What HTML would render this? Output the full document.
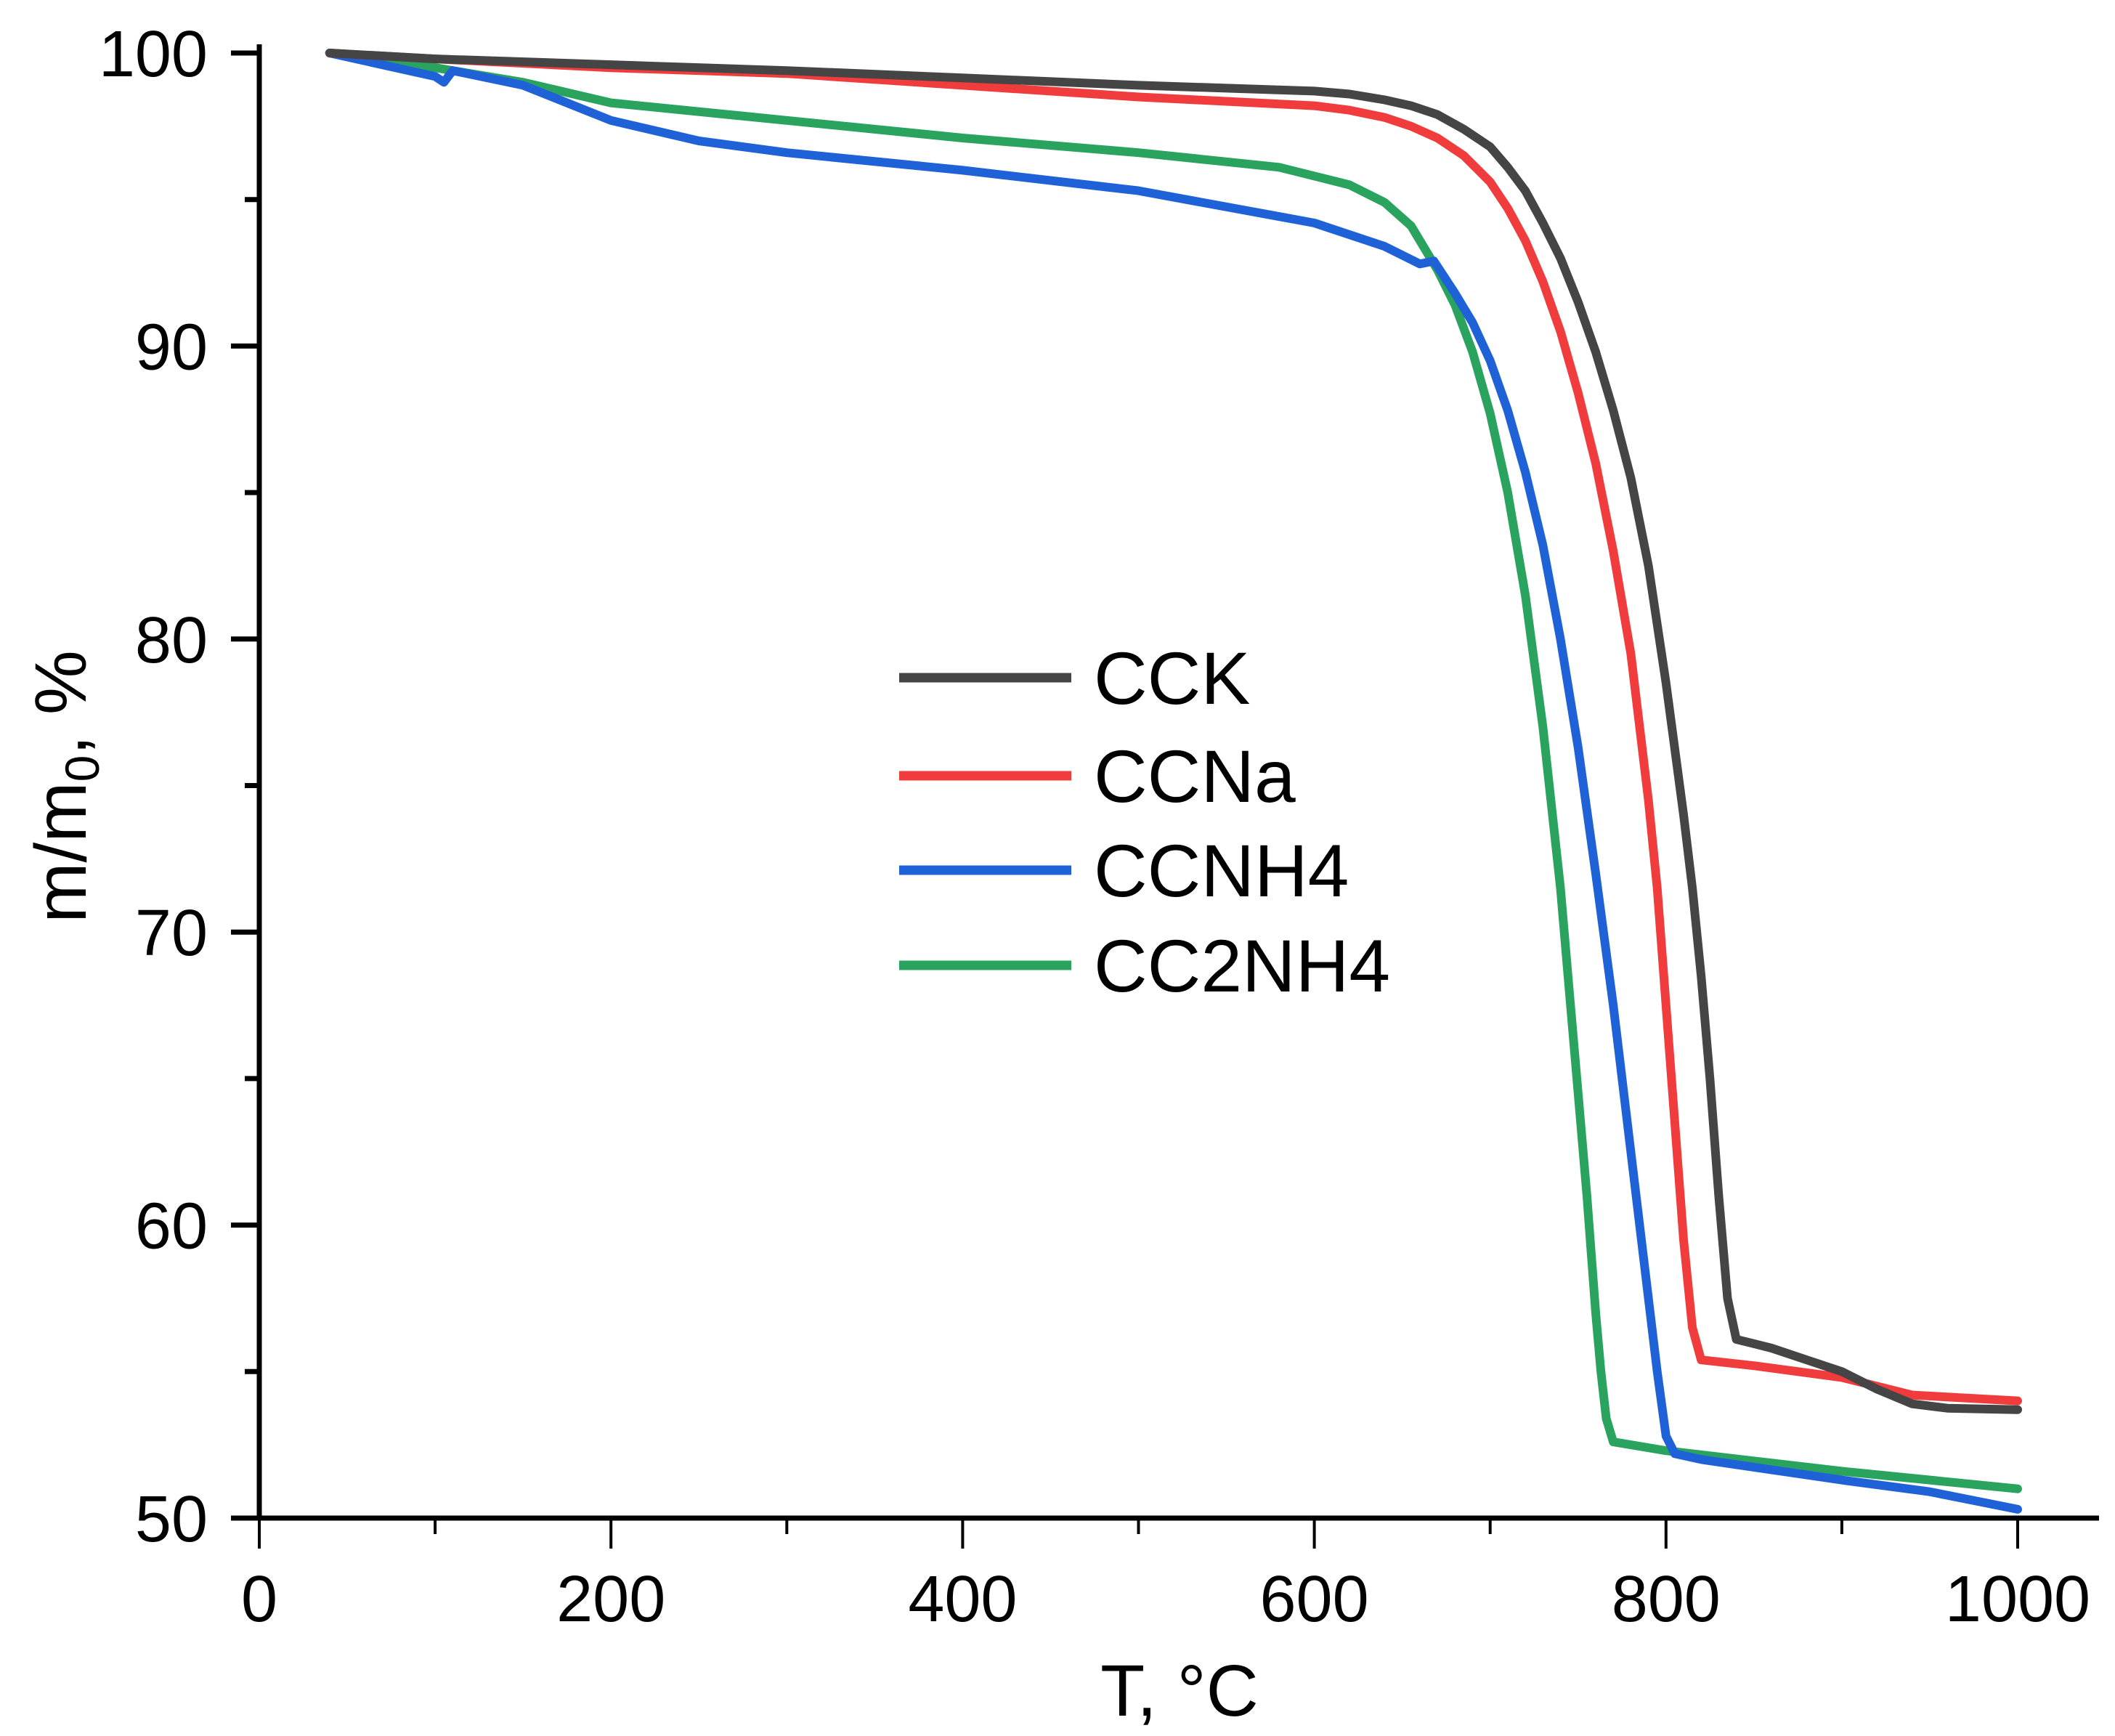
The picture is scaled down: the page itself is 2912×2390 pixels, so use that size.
<!DOCTYPE html>
<html><head><meta charset="utf-8"><style>
html,body{margin:0;padding:0;background:#fff;}
svg{display:block;font-family:"Liberation Sans",Arial,sans-serif;}
</style></head><body>
<svg id="chart" width="2912" height="2390" viewBox="0 0 2912 2390">
<g id="axes"></g>
<g id="series"></g>
<g id="legend"></g>
</svg>
<script>
const xTicks=[0,200,400,600,800,1000];
const xMinor=[100,300,500,700,900];
const yTicks=[50,60,70,80,90,100];
const yMinor=[55,65,75,85,95];
const seriesNames=["CCK","CCNa","CCNH4","CC2NH4"];
const seriesColors=["#454545","#f03c3c","#1f62d8","#2aa35f"];
const cckT=[40,100,200,300,400,500,600,620,640,655,670,685,700,710,720,730,740,750,760,770,780,790,800,810,815,820,825,830,835,840,860,880,900,920,940,960,1000];
const cckM=[100,99.8,99.6,99.4,99.15,98.9,98.7,98.6,98.4,98.2,97.9,97.4,96.8,96.1,95.3,94.2,93,91.5,89.8,87.8,85.5,82.5,78.5,74,71.5,68.5,65,61,57.5,56.1,55.8,55.4,55,54.4,53.9,53.75,53.7];
const ccnaT=[40,100,200,300,350,400,500,600,620,640,655,670,685,700,710,720,730,740,750,760,770,780,790,795,800,805,810,815,820,850,900,940,1000];
const ccnaM=[100,99.8,99.5,99.3,99.1,98.9,98.5,98.2,98.05,97.8,97.5,97.1,96.5,95.6,94.7,93.6,92.2,90.5,88.4,86,83,79.5,74.5,71.5,67.5,63.5,59.5,56.5,55.4,55.2,54.8,54.2,54.0];
const ccnh4T=[40,100,105,110,150,200,250,300,400,500,600,640,660,668,680,690,700,710,720,730,740,750,760,770,780,790,795,800,805,820,900,950,1000];
const ccnh4M=[100,99.2,99,99.4,98.9,97.7,97,96.6,96,95.3,94.2,93.4,92.8,92.9,91.8,90.8,89.5,87.8,85.7,83.2,80,76.3,72,67.5,62.5,57.5,55,52.8,52.2,52,51.3,50.9,50.3];
const cc2T=[40,100,150,200,300,400,500,580,620,640,655,670,680,690,700,710,720,730,740,745,750,755,760,763,766,770,800,900,1000];
const cc2M=[100,99.5,99,98.3,97.7,97.1,96.6,96.1,95.5,94.9,94.1,92.6,91.4,89.8,87.7,85,81.5,77,71.5,68,64.5,61,57,55,53.4,52.6,52.3,51.6,51];

const X0=357,X1=2778,Y100=73,Y50=2090;
const sx=v=>X0+(v-0)*(X1-X0)/1000;
const sy=v=>Y50-(v-50)*(Y50-Y100)/50;
const NS="http://www.w3.org/2000/svg";
function mk(tag,attrs,parent){const e=document.createElementNS(NS,tag);for(const k in attrs)e.setAttribute(k,attrs[k]);parent.appendChild(e);return e;}
const axes=document.getElementById('axes');
let e;
e=mk('line',{x1:X0,y1:61,x2:X0,y2:Y50+2,stroke:'#000','stroke-width':7},axes);


e=mk('line',{x1:X0-3,y1:Y50,x2:2890,y2:Y50,stroke:'#000','stroke-width':7},axes);


xTicks.forEach(v=>{
  e=mk('line',{x1:sx(v),y1:Y50,x2:sx(v),y2:Y50+42,stroke:'#000','stroke-width':4},axes);
  
  
  e=mk('text',{x:sx(v),y:sy(50)+142,'font-size':90,'text-anchor':'middle'},axes);e.textContent=v;
  
  
});
xMinor.forEach(v=>{
  e=mk('line',{x1:sx(v),y1:Y50,x2:sx(v),y2:Y50+22,stroke:'#000','stroke-width':4},axes);
  
  
});
yTicks.forEach(v=>{
  e=mk('line',{x1:X0-39,y1:sy(v),x2:X0,y2:sy(v),stroke:'#000','stroke-width':7},axes);
  
  
  e=mk('text',{x:286,y:sy(v)+32,'font-size':90,'text-anchor':'end'},axes);e.textContent=v;
  
  
});
yMinor.forEach(v=>{
  e=mk('line',{x1:X0-20,y1:sy(v),x2:X0,y2:sy(v),stroke:'#000','stroke-width':7},axes);
  
  
});
e=mk('text',{x:1624,y:2362,'font-size':100,'text-anchor':'middle'},axes);e.textContent='T, °C';


e=mk('text',{x:0,y:0,'font-size':100,'text-anchor':'middle',transform:'translate(118,1083) rotate(-90)'},axes);
e.innerHTML='m/m<tspan font-size="66" dy="18">0</tspan><tspan dy="-18">, %</tspan>';



const sg=document.getElementById('series');
const allT=[cckT,ccnaT,ccnh4T,cc2T],allM=[cckM,ccnaM,ccnh4M,cc2M];
const order=[3,2,1,0];
order.forEach(i=>{
  const d=allT[i].map((t,j)=>(j?'L':'M')+sx(t).toFixed(1)+','+sy(allM[i][j]).toFixed(1)).join(' ');
  e=mk('path',{d:d,fill:'none',stroke:seriesColors[i],'stroke-width':12,'stroke-linejoin':'round','stroke-linecap':'round'},sg);
  
  
});
const lg=document.getElementById('legend');
const ly=[933,1068,1198,1329];
seriesNames.forEach((n,i)=>{
  e=mk('line',{x1:1238,y1:ly[i],x2:1475,y2:ly[i],stroke:seriesColors[i],'stroke-width':13},lg);
  
  
  e=mk('text',{x:1506,y:ly[i]+36,'font-size':102},lg);e.textContent=n;
  
  
});
</script>
</body></html>
